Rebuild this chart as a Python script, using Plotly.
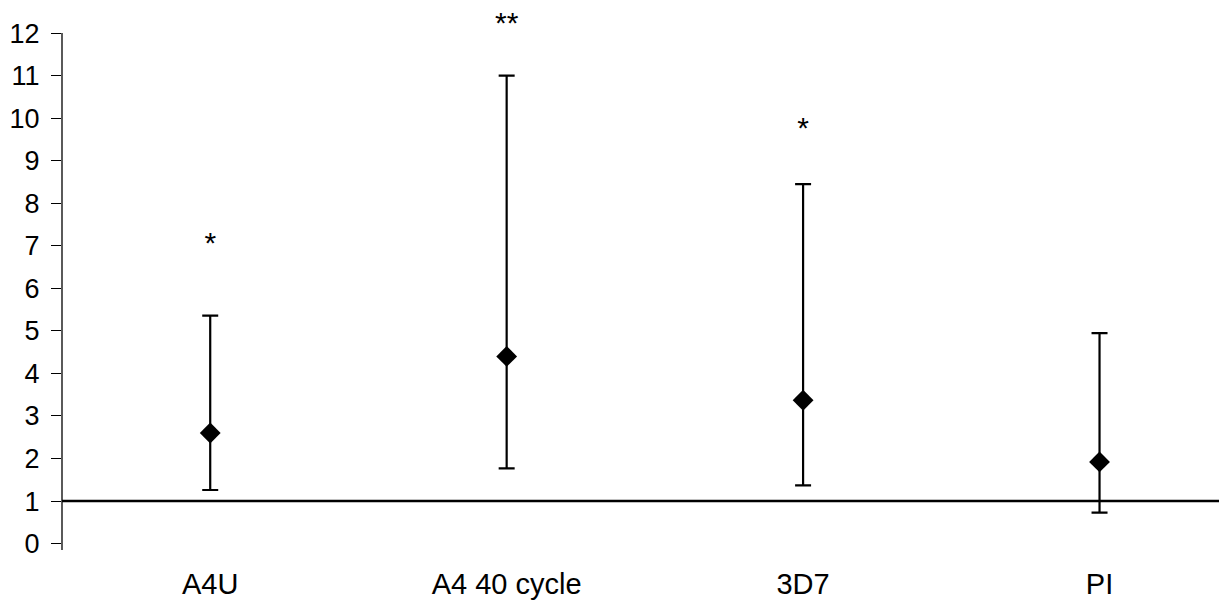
import plotly.graph_objects as go

categories = ["A4U", "A4 40 cycle", "3D7", "PI"]
means = [2.6, 4.4, 3.37, 1.92]
upper = [5.36, 11.0, 8.45, 4.95]
lower = [1.26, 1.77, 1.37, 0.73]
stars = ["*", "**", "*", ""]
star_y = [7.0, 12.54, 9.7, 0]
star_pos = ["middle center", "bottom center", "middle center", "middle center"]
yticks = list(range(0, 13))

xs = list(range(len(categories)))
err_plus = [u - m for u, m in zip(upper, means)]
err_minus = [m - l for m, l in zip(means, lower)]

FONT = "Liberation Sans, Arial"

fig = go.Figure()
fig.add_trace(go.Scatter(
    x=xs, y=means, mode="markers",
    marker=dict(symbol="diamond", size=16, color="black"),
    error_y=dict(type="data", symmetric=False, array=err_plus, arrayminus=err_minus,
                 color="black", thickness=2.2, width=8),
    showlegend=False,
))

sel = [i for i, s in enumerate(stars) if s]
fig.add_trace(go.Scatter(
    x=[xs[i] for i in sel], y=[star_y[i] for i in sel], mode="text",
    text=[stars[i] for i in sel], textposition=[star_pos[i] for i in sel],
    textfont=dict(family=FONT, size=30, color="black"),
    cliponaxis=False, showlegend=False, hoverinfo="skip",
))

# reference line at y = 1
fig.add_shape(type="line", xref="paper", yref="y", x0=0, x1=1, y0=1, y1=1,
              line=dict(color="black", width=2.5))
# y axis line from bottom to 12
fig.add_shape(type="line", xref="paper", yref="y", x0=0, x1=0, y0=-0.15, y1=12,
              line=dict(color="black", width=1.3))

fig.update_layout(
    width=1219, height=593,
    margin=dict(l=54, r=0, t=0, b=51),
    plot_bgcolor="white", paper_bgcolor="white",
    font=dict(family=FONT, color="black"),
    xaxis=dict(range=[-0.5, 3.43], tickmode="array", tickvals=xs, ticktext=categories,
               showgrid=False, zeroline=False, showline=False, ticks="",
               tickfont=dict(size=29), ticklabelstandoff=14),
    yaxis=dict(range=[-0.15, 12.59], tickmode="array", tickvals=yticks,
               ticktext=[str(t) for t in yticks],
               showgrid=False, zeroline=False, showline=False,
               ticks="outside", ticklen=10, tickwidth=1.2, tickcolor="black",
               tickfont=dict(size=27), ticklabelstandoff=6),
)

fig.write_html("out.html")
